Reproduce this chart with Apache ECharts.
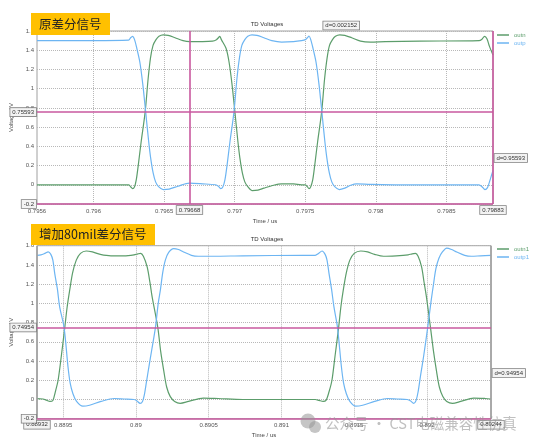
<!DOCTYPE html>
<html><head><meta charset="utf-8">
<script src="https://cdn.jsdelivr.net/npm/echarts@6/dist/echarts.min.js"></script>
<style>html,body{margin:0;padding:0;background:#fff}#c{width:539px;height:446px}</style>
</head><body><div id="c"></div>
<script>
// ---------- data (time in us, voltage in V) ----------
const topOutn = [[0.7956,0.0],[0.7960,0.0],[0.796249,0.0],[0.796263,-0.02],[0.796277,-0.04],[0.796291,-0.02],[0.796303,0.05],[0.796317,0.2],[0.796338,0.45],[0.796366,0.756],[0.796387,1.1],[0.796404,1.32],[0.796422,1.45],[0.796443,1.51],[0.796464,1.545],[0.796494,1.56],[0.796529,1.555],[0.796578,1.53],[0.796634,1.5],[0.796682,1.49],[0.796773,1.49],[0.796843,1.495],[0.796871,1.51],[0.796885,1.53],[0.796894,1.545],[0.796906,1.51],[0.796939,1.42],[0.79696,1.28],[0.796981,1.05],[0.797002,0.756],[0.797023,0.45],[0.797037,0.28],[0.797055,0.12],[0.797072,0.03],[0.797093,-0.02],[0.797123,-0.06],[0.797165,-0.055],[0.797207,-0.035],[0.797263,-0.01],[0.797333,0.01],[0.797417,0.01],[0.797473,0.0],[0.797501,0.0],[0.797515,-0.02],[0.797527,-0.04],[0.797539,-0.02],[0.797553,0.05],[0.797567,0.2],[0.797588,0.45],[0.797616,0.756],[0.797637,1.1],[0.797655,1.32],[0.797672,1.45],[0.797693,1.51],[0.797714,1.545],[0.797745,1.56],[0.79778,1.555],[0.797829,1.53],[0.797892,1.495],[0.797962,1.485],[0.798067,1.49],[0.798312,1.495],[0.798731,1.5],[0.798752,1.515],[0.79877,1.545],[0.798787,1.52],[0.798805,1.44],[0.79883,1.35]];
const topOutp = [[0.7956,1.5],[0.7960,1.5],[0.796249,1.505],[0.796263,1.53],[0.796277,1.545],[0.796291,1.51],[0.796307,1.42],[0.796328,1.28],[0.796349,1.05],[0.79637,0.756],[0.796391,0.45],[0.796405,0.28],[0.796423,0.12],[0.79644,0.03],[0.796461,-0.02],[0.796494,-0.05],[0.796536,-0.045],[0.796599,-0.015],[0.79668,0.017],[0.796773,0.01],[0.796864,0.0],[0.796885,-0.015],[0.796901,-0.04],[0.796917,-0.02],[0.796931,0.05],[0.796946,0.2],[0.796967,0.45],[0.796995,0.756],[0.797016,1.1],[0.797034,1.32],[0.797051,1.45],[0.797072,1.51],[0.797093,1.545],[0.797123,1.56],[0.797158,1.555],[0.797207,1.53],[0.797263,1.5],[0.797333,1.485],[0.797417,1.49],[0.797473,1.5],[0.797501,1.51],[0.797515,1.53],[0.797527,1.548],[0.797539,1.51],[0.797555,1.42],[0.797576,1.28],[0.797597,1.05],[0.797618,0.756],[0.797639,0.45],[0.797653,0.28],[0.797671,0.12],[0.797688,0.03],[0.797709,-0.02],[0.797741,-0.05],[0.79778,-0.035],[0.797822,-0.005],[0.797864,0.01],[0.797962,0.005],[0.798172,0.0],[0.798731,0.0],[0.798752,-0.02],[0.798773,-0.05],[0.798791,-0.03],[0.798805,0.03],[0.79883,0.15]];
const botOutp = [[0.88932,1.5],[0.889347,1.505],[0.889374,1.52],[0.889397,1.535],[0.889415,1.51],[0.889429,1.45],[0.889442,1.31],[0.88946,1.15],[0.889476,0.96],[0.889506,0.75],[0.889533,0.34],[0.889548,0.17],[0.889567,0.06],[0.889592,-0.02],[0.889635,-0.07],[0.889681,-0.06],[0.88976,-0.02],[0.889851,0.01],[0.889919,0.005],[0.889987,0.0],[0.890007,-0.015],[0.890028,-0.04],[0.890045,-0.02],[0.890058,0.05],[0.890072,0.18],[0.890089,0.34],[0.890109,0.52],[0.890134,0.75],[0.890153,1.0],[0.890168,1.14],[0.890184,1.32],[0.890202,1.45],[0.890225,1.53],[0.890259,1.57],[0.890293,1.56],[0.890327,1.535],[0.890381,1.5],[0.890429,1.49],[0.890531,1.49],[0.890735,1.495],[0.891143,1.5],[0.891232,1.5],[0.891255,1.52],[0.891279,1.545],[0.8913,1.51],[0.891313,1.45],[0.891327,1.31],[0.891344,1.15],[0.891361,0.96],[0.891385,0.75],[0.891412,0.34],[0.891427,0.17],[0.891446,0.06],[0.89147,-0.02],[0.89151,-0.07],[0.891558,-0.06],[0.89164,-0.02],[0.891728,0.01],[0.891796,0.005],[0.891864,0.0],[0.891888,-0.015],[0.891908,-0.04],[0.891925,-0.01],[0.891939,0.08],[0.891956,0.25],[0.891977,0.45],[0.892005,0.75],[0.892028,1.02],[0.892045,1.2],[0.892061,1.36],[0.892082,1.47],[0.892106,1.535],[0.892136,1.575],[0.89217,1.56],[0.892204,1.535],[0.892259,1.5],[0.892306,1.49],[0.892368,1.495],[0.89244,1.5]];
const botOutn = [[0.88932,0.008],[0.889361,0.005],[0.889388,-0.01],[0.889408,-0.02],[0.889429,-0.01],[0.889446,0.08],[0.889465,0.2],[0.889487,0.45],[0.889511,0.75],[0.889527,0.96],[0.889545,1.14],[0.889565,1.32],[0.88959,1.45],[0.889619,1.52],[0.889658,1.545],[0.889701,1.535],[0.889755,1.51],[0.889828,1.495],[0.889919,1.495],[0.889987,1.505],[0.890014,1.515],[0.890032,1.52],[0.890051,1.49],[0.890077,1.38],[0.890096,1.22],[0.890111,1.07],[0.89015,0.75],[0.89017,0.5],[0.890191,0.3],[0.890211,0.13],[0.890236,0.03],[0.890266,-0.02],[0.890304,-0.04],[0.890361,-0.02],[0.890463,0.015],[0.890565,0.01],[0.890735,0.0],[0.891143,0.0],[0.891232,0.0],[0.891259,-0.01],[0.891286,-0.02],[0.891306,-0.01],[0.891327,0.08],[0.891347,0.2],[0.891368,0.45],[0.891393,0.75],[0.891408,0.96],[0.891425,1.14],[0.891446,1.32],[0.89147,1.45],[0.8915,1.52],[0.891545,1.545],[0.891592,1.535],[0.89164,1.51],[0.891701,1.49],[0.891789,1.495],[0.891871,1.505],[0.891898,1.515],[0.891921,1.52],[0.891939,1.49],[0.891963,1.38],[0.89198,1.22],[0.891996,1.07],[0.892024,0.75],[0.892045,0.5],[0.892065,0.3],[0.892085,0.13],[0.892109,0.03],[0.892136,-0.02],[0.892175,-0.04],[0.892232,-0.02],[0.89232,0.015],[0.892402,0.01],[0.89244,0.005]];

const topXRange = [0.7956, 0.79883];
const botXRange = [0.88932, 0.89244];
const yRange = [-0.2, 1.6];
const topXLabels = [0.7956, 0.796, 0.7965, 0.797, 0.7975, 0.798, 0.7985];
const topXGrid = [0.796, 0.7965, 0.797, 0.7975, 0.798, 0.7985];
const botXLabels = [0.8895, 0.89, 0.8905, 0.891, 0.8915, 0.892];
const topMarkX = [0.79668, 0.79883];
const topMarkY = [0.75593, -0.2];
const botMarkX = [0.88932, 0.89244];
const botMarkY = [0.74954, -0.2];
const topDx = 'd=0.002152', topDy = 'd=0.95593', botDy = 'd=0.94954';
const topSeriesNames = ['outn', 'outp'];
const botSeriesNames = ['outn1', 'outp1'];
const topLabelText = '原差分信号';
const botLabelText = '增加80mil差分信号';
const chartTitle = 'TD Voltages';
const watermark = '公众号 · CST电磁兼容性仿真';

// ---------- style ----------
const GREEN = '#5c9d6b', BLUE = '#6db5f2', MAG = '#c9599f';
const FONT = 'Liberation Sans, Arial, sans-serif';
const CJK = 'Noto Sans CJK SC, sans-serif';
const fmt = v => String(+(+v).toFixed(5));
const boxLabel = {show:true, fontSize:6, color:'#333', fontFamily:FONT, backgroundColor:'#f3f3f3', borderColor:'#808080', borderWidth:0.8, padding:[1,2,1,2]};

function xAxisCfg(gi, range, labels, grid) {
  return {gridIndex:gi, type:'value', min:range[0], max:range[1],
    name:'Time / us', nameLocation:'middle', nameGap:14,
    nameTextStyle:{fontSize:6, color:'#444', fontFamily:FONT},
    axisLine:{show:false}, axisTick:{show:false, customValues:grid},
    axisLabel:{customValues:labels, formatter:fmt, fontSize:6, color:'#555', fontFamily:FONT, margin:4},
    splitLine:{show:true, lineStyle:{type:'dotted', color:'#b8b8b8', width:1}}};
}
function yAxisCfg(gi) {
  return {gridIndex:gi, type:'value', min:yRange[0], max:yRange[1], interval:0.2,
    name:'Voltage / V', nameLocation:'middle', nameGap:23,
    nameTextStyle:{fontSize:6, color:'#444', fontFamily:FONT},
    axisLine:{show:false}, axisTick:{show:false},
    axisLabel:{formatter: v => (v < -0.1 ? '' : String(+(+v).toFixed(1))), fontSize:6, color:'#555', fontFamily:FONT, margin:3},
    splitLine:{show:true, lineStyle:{type:'dotted', color:'#b8b8b8', width:1}}};
}
function markLines(xs, xr, ys, xColor) {
  const d = [];
  xs.forEach(v => d.push([
    {coord:[v, yRange[0]], lineStyle:{color:xColor}, label:Object.assign({}, boxLabel, {position:'start', distance:2, formatter:fmt(v)})},
    {coord:[v, yRange[1]]}
  ]));
  ys.forEach(v => d.push([
    {coord:[xr[0], v], lineStyle:{color:MAG}, label:Object.assign({}, boxLabel, {position:'start', distance:1, formatter:fmt(v)})},
    {coord:[xr[1], v]}
  ]));
  return {symbol:'none', silent:true, animation:false, lineStyle:{width:1.6, type:'solid'}, data:d};
}
function legendCfg(names, top) {
  return {data:[{name:names[0], textStyle:{color:GREEN}}, {name:names[1], textStyle:{color:BLUE}}],
    orient:'vertical', left:497, top:top, padding:0, icon:'rect', itemWidth:12, itemHeight:1.5, itemGap:2,
    textStyle:{fontSize:6, fontFamily:FONT, lineHeight:6}};
}
const lineBase = {type:'line', showSymbol:false, symbol:'none', smooth:0.3, animation:false};

const option = {
  animation:false,
  backgroundColor:'#fff',
  title:[
    {text:chartTitle, left:262, top:16, textAlign:'center', textStyle:{fontSize:6, fontWeight:'normal', color:'#333', fontFamily:FONT}},
    {text:chartTitle, left:262, top:231, textAlign:'center', textStyle:{fontSize:6, fontWeight:'normal', color:'#333', fontFamily:FONT}}
  ],
  legend:[legendCfg(topSeriesNames, 32), legendCfg(botSeriesNames, 246)],
  grid:[
    {left:32, top:31, width:461, height:173, show:true, borderColor:'#a0a0a0', borderWidth:1},
    {left:32, top:245.7, width:459, height:173, show:true, borderColor:'#a0a0a0', borderWidth:1}
  ],
  xAxis:[xAxisCfg(0, topXRange, topXLabels, topXGrid), xAxisCfg(1, botXRange, botXLabels, botXLabels)],
  yAxis:[yAxisCfg(0), yAxisCfg(1)],
  series:[
    Object.assign({}, lineBase, {name:topSeriesNames[0], xAxisIndex:0, yAxisIndex:0, data:topOutn, itemStyle:{color:GREEN}, lineStyle:{width:1.2, color:GREEN},
      markLine:markLines(topMarkX, topXRange, topMarkY, MAG),
      markPoint:{symbol:'rect', symbolSize:1, itemStyle:{color:'rgba(0,0,0,0)'}, silent:true, animation:false, data:[
        {coord:[(topMarkX[0]+topMarkX[1])/2, yRange[1]], label:Object.assign({}, boxLabel, {position:'top', distance:1, formatter:topDx})},
        {coord:[topMarkX[1], (topMarkY[0]+topMarkY[1])/2], label:Object.assign({}, boxLabel, {position:'right', distance:1, formatter:topDy})}
      ]}}),
    Object.assign({}, lineBase, {name:topSeriesNames[1], xAxisIndex:0, yAxisIndex:0, data:topOutp, itemStyle:{color:BLUE}, lineStyle:{width:1.2, color:BLUE}}),
    Object.assign({}, lineBase, {name:botSeriesNames[0], xAxisIndex:1, yAxisIndex:1, data:botOutn, itemStyle:{color:GREEN}, lineStyle:{width:1.2, color:GREEN},
      markLine:markLines(botMarkX, botXRange, botMarkY, '#a0a0a0'),
      markPoint:{symbol:'rect', symbolSize:1, itemStyle:{color:'rgba(0,0,0,0)'}, silent:true, animation:false, data:[
        {coord:[botMarkX[1], (botMarkY[0]+botMarkY[1])/2], label:Object.assign({}, boxLabel, {position:'right', distance:1, formatter:botDy})}
      ]}}),
    Object.assign({}, lineBase, {name:botSeriesNames[1], xAxisIndex:1, yAxisIndex:1, data:botOutp, itemStyle:{color:BLUE}, lineStyle:{width:1.2, color:BLUE}})
  ],
  graphic:[
    {type:'rect', left:31, top:13, shape:{width:79, height:22}, style:{fill:'#FFC000'}, z:100},
    {type:'text', x:39, y:24, style:{text:topLabelText, fontSize:12.5, fontFamily:CJK, fill:'#222', verticalAlign:'middle'}, z:101},
    {type:'rect', left:31, top:224, shape:{width:124, height:21}, style:{fill:'#FFC000'}, z:100},
    {type:'text', x:39, y:234.5, style:{text:botLabelText, fontSize:12.5, fontFamily:CJK, fill:'#222', verticalAlign:'middle'}, z:101},
    {type:'circle', shape:{cx:308, cy:421, r:7.5}, style:{fill:'rgba(150,150,150,0.55)'}, z:102},
    {type:'circle', shape:{cx:315, cy:427, r:6}, style:{fill:'rgba(150,150,150,0.55)'}, z:102},
    {type:'text', x:325, y:423, style:{text:watermark, fontSize:14.5, fontFamily:CJK, fill:'rgba(150,150,150,0.6)', verticalAlign:'middle'}, z:102}
  ]
};
const chart = echarts.init(document.getElementById('c'), null, {renderer:'canvas'});
chart.setOption(option);
</script></body></html>
